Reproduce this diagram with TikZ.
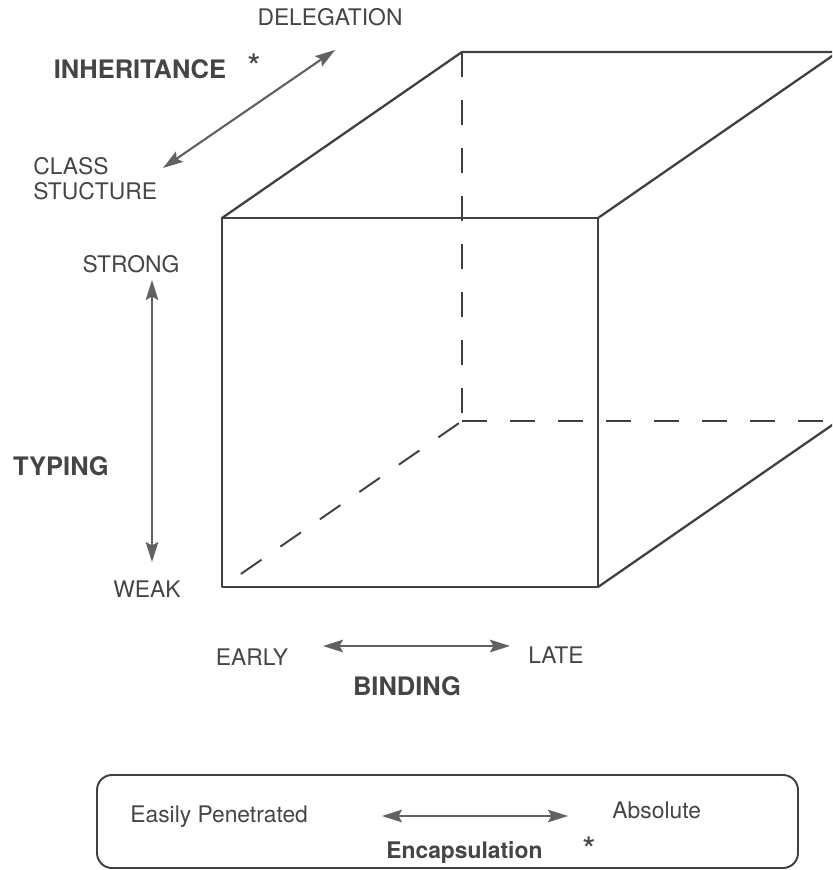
\documentclass[tikz,border=0pt]{standalone}
\usepackage{fontspec}
\setmainfont{TeX Gyre Heros}
\usetikzlibrary{arrows.meta}
\definecolor{ink}{gray}{0.25}
\definecolor{lbl}{gray}{0.27}
\definecolor{arr}{gray}{0.38}
\begin{document}
\begin{tikzpicture}[x=0.2mm,y=-0.2mm,
  edge/.style={draw=ink, line width=1.3pt, line join=round},
  hidden/.style={draw=ink, line width=1.1pt, dash pattern=on 5mm off 4.6mm},
  tip/.style={arr, line width=1.2pt, {Stealth[length=4mm,width=2.5mm,inset=0.7mm]}-{Stealth[length=4mm,width=2.5mm,inset=0.7mm]}},
  lab/.style={text=lbl, font=\fontsize{13}{14.2}\selectfont, inner sep=0pt},
  head/.style={text=lbl, font=\fontsize{14.5}{17}\selectfont\bfseries, inner sep=0pt},
  star/.style={text=lbl, font=\fontsize{20}{22}\selectfont, inner sep=0pt}]
\useasboundingbox (0,0) rectangle (832,870);
\clip (0,0) rectangle (832,870);

% cube corners, front then back
\coordinate (f0) at (222,218);
\coordinate (f1) at (598,218);
\coordinate (f2) at (598,587);
\coordinate (f3) at (222,587);
\coordinate (b0) at (462,52);
\coordinate (b1) at (838,52);
\coordinate (b2) at (838,421);
\coordinate (b3) at (462,421);

\draw[hidden] (b0) -- (b3);
\draw[hidden] (b3) -- (b2);
\draw[hidden, dash phase=5mm] (f3) -- (b3);

\draw[edge] (f0) -- (f1) -- (f2) -- (f3) -- cycle;
\draw[edge] (f0) -- (b0) -- (b1) -- (f1);
\draw[edge] (f2) -- (b2);

% inheritance
\node[lab, anchor=base] (deleg) at (330,25) {DELEGATION};
\node[head, anchor=base] (inherit) at (140,78) {INHERITANCE};
\node[star] (star1) at (254,67) {*};
\node[lab, anchor=north west, align=left] (class) at (33,157) {CLASS\\STUCTURE};
\coordinate (inh0) at (163,168);
\coordinate (inh1) at (335,50);
\draw[tip] (inh0) -- (inh1);

% typing
\node[lab, anchor=base] (strong) at (131,272) {STRONG};
\node[head, anchor=base] (typing) at (61,475) {TYPING};
\node[lab, anchor=base] (weak) at (147,597) {WEAK};
\coordinate (typ0) at (152,280);
\coordinate (typ1) at (152,562);
\draw[tip] (typ0) -- (typ1);

% binding
\node[lab, anchor=base] (early) at (252,665) {EARLY};
\node[lab, anchor=base] (late) at (556,663) {LATE};
\node[head, anchor=base] (binding) at (407,695) {BINDING};
\coordinate (bnd0) at (323,646);
\coordinate (bnd1) at (510,646);
\draw[tip] (bnd0) -- (bnd1);

% encapsulation
\draw[edge, line width=1.1pt, rounded corners=3mm] (97,775) rectangle (798,868);
\node[lab, anchor=base west] (easy) at (130,822) {Easily Penetrated};
\node[lab, anchor=base west] (absolute) at (612,818) {Absolute};
\node[head, font=\fontsize{13}{16}\selectfont\bfseries, anchor=base west] (encap) at (386,858) {Encapsulation};
\node[star] (star2) at (589,850) {*};
\coordinate (enc0) at (382,816);
\coordinate (enc1) at (568,816);
\draw[tip] (enc0) -- (enc1);

\end{tikzpicture}
\end{document}
